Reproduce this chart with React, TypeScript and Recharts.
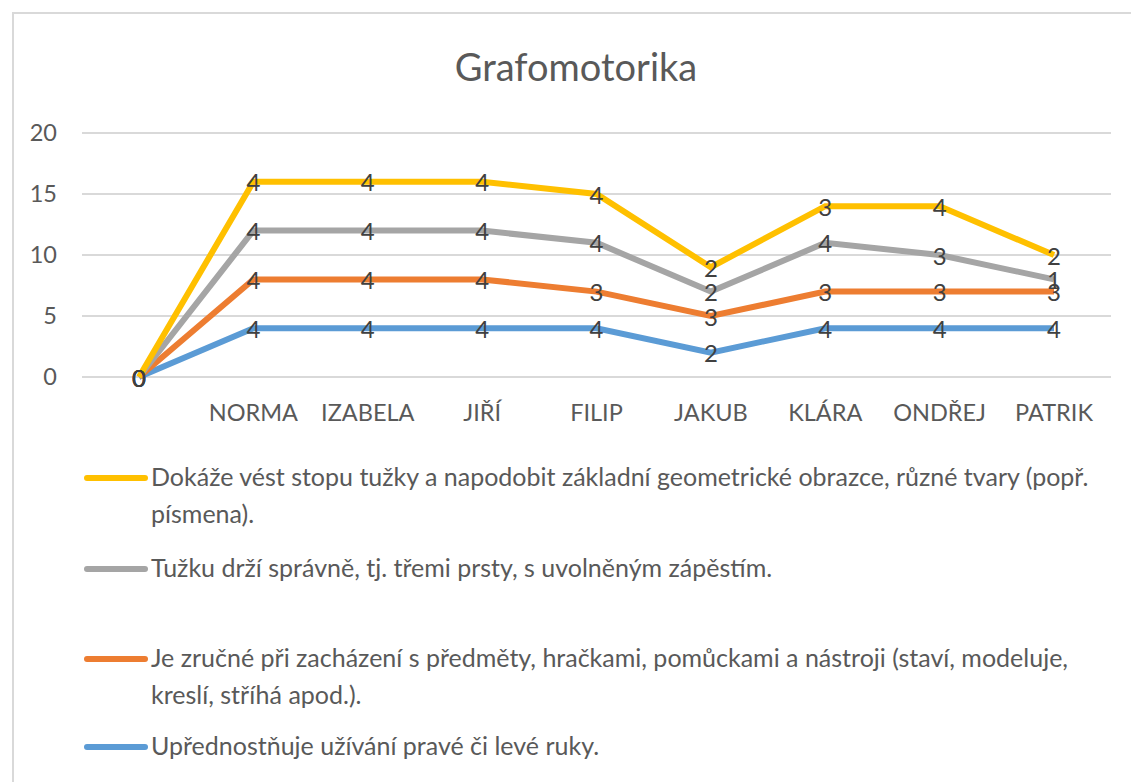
import { LineChart, Line, XAxis, YAxis, CartesianGrid, LabelList } from 'recharts';

const categories = ['', 'NORMA', 'IZABELA', 'JIŘÍ', 'FILIP', 'JAKUB', 'KLÁRA', 'ONDŘEJ', 'PATRIK'];

// hodnoty jednotlivých řad (graf je skládaný)
const ruka = [0, 4, 4, 4, 4, 2, 4, 4, 4];
const zrucnost = [0, 4, 4, 4, 3, 3, 3, 3, 3];
const drzeni = [0, 4, 4, 4, 4, 2, 4, 3, 1];
const stopa = [0, 4, 4, 4, 4, 2, 3, 4, 2];

const yTicks = [0, 5, 10, 15, 20];

const series = [
  { key: 'ruka', values: ruka, color: '#5B9BD5', name: 'Upřednostňuje užívání pravé či levé ruky.' },
  {
    key: 'zrucnost',
    values: zrucnost,
    color: '#ED7D31',
    name: 'Je zručné při zacházení s předměty, hračkami, pomůckami a nástroji (staví, modeluje, kreslí, stříhá apod.).',
  },
  { key: 'drzeni', values: drzeni, color: '#A5A5A5', name: 'Tužku drží správně, tj. třemi prsty, s uvolněným zápěstím.' },
  {
    key: 'stopa',
    values: stopa,
    color: '#FFC000',
    name: 'Dokáže vést stopu tužky a napodobit základní geometrické obrazce, různé tvary (popř. písmena).',
  },
];

// tabulka pro recharts: vlastní hodnota + kumulovaný součet
const data = categories.map((name, i) => {
  const row: Record<string, string | number> = { name };
  let sum = 0;
  series.forEach((s) => {
    sum += s.values[i];
    row[s.key] = s.values[i];
    row[s.key + 'Sum'] = sum;
  });
  return row;
});

const FONT = 'Lato, "Open Sans", sans-serif';

const renderLabel = (props: any) => {
  const { x, y, value } = props;
  return (
    <text x={x} y={y} textAnchor="middle" dominantBaseline="central" fontSize={24} fill="#404040" style={{ fontFamily: FONT }}>
      {value}
    </text>
  );
};

// legenda v pořadí jako v Excelu (od horní řady)
const legendRows = [
  { idx: 3, top: 459 },
  { idx: 2, top: 550 },
  { idx: 1, top: 640 },
  { idx: 0, top: 728 },
];

export default function App() {
  return (
    <div style={{ position: 'absolute', left: 0, top: 0, width: 1131, height: 782, background: '#fff', overflow: 'hidden', fontFamily: FONT }}>
      <div style={{ position: 'absolute', left: 12, top: 12, width: 1140, height: 800, border: '2px solid #d9d9d9' }} />
      <div style={{ position: 'absolute', left: 0, top: 43, width: 1152, textAlign: 'center', fontSize: 38, color: '#595959' }}>
        Grafomotorika
      </div>
      <div style={{ position: 'absolute', left: 0, top: 0 }}>
        <LineChart width={1131} height={440} data={data} margin={{ top: 133, right: 20, left: 0, bottom: 3 }}>
          <CartesianGrid vertical={false} stroke="#d9d9d9" strokeWidth={2} />
          <XAxis
            dataKey="name"
            axisLine={false}
            tickLine={false}
            tickSize={0}
            tickMargin={27}
            height={60}
            interval={0}
            padding={{ left: 57, right: 57 }}
            tick={{ fontSize: 23.5, fill: '#595959', fontFamily: FONT }}
          />
          <YAxis
            domain={[0, 20]}
            ticks={yTicks}
            axisLine={false}
            tickLine={false}
            tickSize={0}
            tickMargin={25}
            width={82}
            tick={{ fontSize: 23.5, fill: '#595959', fontFamily: FONT }}
          />
          {series.map((s) => (
            <Line
              key={s.key}
              dataKey={s.key + 'Sum'}
              stroke={s.color}
              strokeWidth={6}
              dot={false}
              activeDot={false}
              isAnimationActive={false}
            >
              <LabelList dataKey={s.key} content={renderLabel} />
            </Line>
          ))}
        </LineChart>
      </div>
      {legendRows.map(({ idx, top }) => {
        const s = series[idx];
        return (
          <div key={s.key} style={{ position: 'absolute', left: 84, top, width: 1040, display: 'flex' }}>
            <div style={{ width: 64, height: 6, background: s.color, borderRadius: 3, marginTop: 16, flexShrink: 0 }} />
            <div style={{ marginLeft: 3, fontSize: 25, lineHeight: '37px', color: '#595959', marginTop: -1 }}>{s.name}</div>
          </div>
        );
      })}
    </div>
  );
}
